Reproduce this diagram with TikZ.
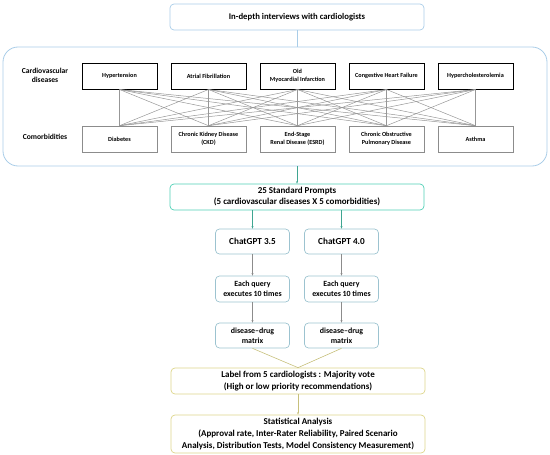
\documentclass[tikz,border=0pt]{standalone}
\usepackage{fontspec}
\setmainfont{Carlito}
\usetikzlibrary{arrows.meta}
\definecolor{lblue}{HTML}{A9CDE8}
\definecolor{teal1}{HTML}{4FCFB5}
\definecolor{gblue}{HTML}{9CC3D0}
\definecolor{khaki}{HTML}{DDD58A}
\definecolor{lgray}{HTML}{8C8C8C}
\tikzset{
  rbox/.style={draw, rounded corners=4pt, align=center, inner sep=1pt, line width=0.7pt},
  cvdbox/.style={draw=black, line width=1pt, minimum width=75pt, minimum height=26pt, align=center, inner sep=1pt, font=\fontsize{6.2}{7.6}\selectfont\bfseries},
  combox/.style={draw=lgray, line width=0.6pt, minimum width=75pt, minimum height=26pt, align=center, inner sep=1pt, font=\fontsize{6.2}{7.6}\selectfont\bfseries},
  sidelabel/.style={align=center, font=\fontsize{7.6}{9.2}\selectfont\bfseries},
  mainfont/.style={font=\fontsize{9}{12}\selectfont\bfseries},
  smallfont/.style={font=\fontsize{7.9}{9.6}\selectfont\bfseries},
  link/.style={draw=lgray!90, line width=0.5pt},
  arr/.style={-{Stealth[length=2.5pt,width=2pt]}, line width=0.5pt}
}
\begin{document}
\begin{tikzpicture}[x=1pt,y=-1pt]
\useasboundingbox (0,0) rectangle (550,455);
% top
\node[rbox, draw=lblue, minimum width=254pt, minimum height=26pt, font=\fontsize{8.7}{10}\selectfont\bfseries] (top) at (297,17) {In-depth interviews with cardiologists};
\node[draw=lblue, rounded corners=15pt, line width=0.8pt, minimum width=544pt, minimum height=119pt] (big) at (275,106.5) {};
\draw[lblue, line width=0.6pt] (top.south) -- (top.south |- big.north);
% labels
\node[sidelabel] (lcvd) at (45,75) {Cardiovascular\\diseases};
\node[sidelabel] (lcom) at (45,137) {Comorbidities};
% cvd boxes
\node[cvdbox] (c1) at (119.5,76) {Hypertension};
\node[cvdbox] (c2) at (208.5,76) {Atrial Fibrillation};
\node[cvdbox] (c3) at (297.5,76) {Old\\Myocardial Infarction};
\node[cvdbox] (c4) at (386.5,76) {Congestive Heart Failure};
\node[cvdbox] (c5) at (475.5,76) {Hypercholesterolemia};
\node[combox] (m1) at (119.5,139) {Diabetes};
\node[combox] (m2) at (208.5,139) {Chronic Kidney Disease\\(CKD)};
\node[combox] (m3) at (297.5,139) {End-Stage\\Renal Disease (ESRD)};
\node[combox] (m4) at (386.5,139) {Chronic Obstructive\\Pulmonary Disease};
\node[combox] (m5) at (475.5,139) {Asthma};
\foreach \i in {1,...,5}{\foreach \j in {1,...,5}{\draw[link] (c\i.south) -- (m\j.north);}}
% prompts
\node[rbox, draw=teal1, minimum width=254pt, minimum height=26pt, font=\fontsize{9}{11}\selectfont\bfseries] (prompt) at (297,197) {25 Standard Prompts\\(5 cardiovascular diseases X 5 comorbidities)};
\draw[arr, teal1!80!black] (big.south -| prompt.north) -- (prompt.north);
\node[rbox, draw=gblue, minimum width=74pt, minimum height=25pt, font=\fontsize{9.2}{11}\selectfont\bfseries] (g35) at (252.5,241.5) {ChatGPT 3.5};
\node[rbox, draw=gblue, minimum width=74pt, minimum height=25pt, font=\fontsize{9.2}{11}\selectfont\bfseries] (g40) at (341.5,241.5) {ChatGPT 4.0};
\draw[arr, teal1!80!black] (prompt.south -| g35.north) -- (g35.north);
\draw[arr, teal1!80!black] (prompt.south -| g40.north) -- (g40.north);
\node[rbox, draw=gblue, minimum width=74pt, minimum height=26pt, smallfont] (q35) at (252.5,289) {Each query\\executes 10 times};
\node[rbox, draw=gblue, minimum width=74pt, minimum height=26pt, smallfont] (q40) at (341.5,289) {Each query\\executes 10 times};
\node[rbox, draw=gblue, minimum width=74pt, minimum height=25pt, smallfont] (d35) at (252.5,335.5) {disease--drug\\matrix};
\node[rbox, draw=gblue, minimum width=74pt, minimum height=25pt, smallfont] (d40) at (341.5,335.5) {disease--drug\\matrix};
\draw[arr, lgray] (g35) -- (q35);
\draw[arr, lgray] (g40) -- (q40);
\draw[arr, lgray] (q35) -- (d35);
\draw[arr, lgray] (q40) -- (d40);
% label & stats
\node[rbox, draw=khaki, minimum width=254pt, minimum height=26pt, mainfont] (label) at (298,381) {Label from 5 cardiologists : Majority vote\\(High or low priority recommendations)};
\draw[khaki!90!black, line width=0.6pt] (d35.south) -- (label.north);
\draw[khaki!90!black, line width=0.6pt] (d40.south) -- (label.north);
\node[rbox, draw=khaki, minimum width=254pt, minimum height=38pt, mainfont] (stats) at (298,434) {Statistical Analysis\\(Approval rate, Inter-Rater Reliability, Paired Scenario\\Analysis, Distribution Tests, Model Consistency Measurement)};
\draw[arr, khaki!90!black] (label) -- (stats);
\end{tikzpicture}
\end{document}
